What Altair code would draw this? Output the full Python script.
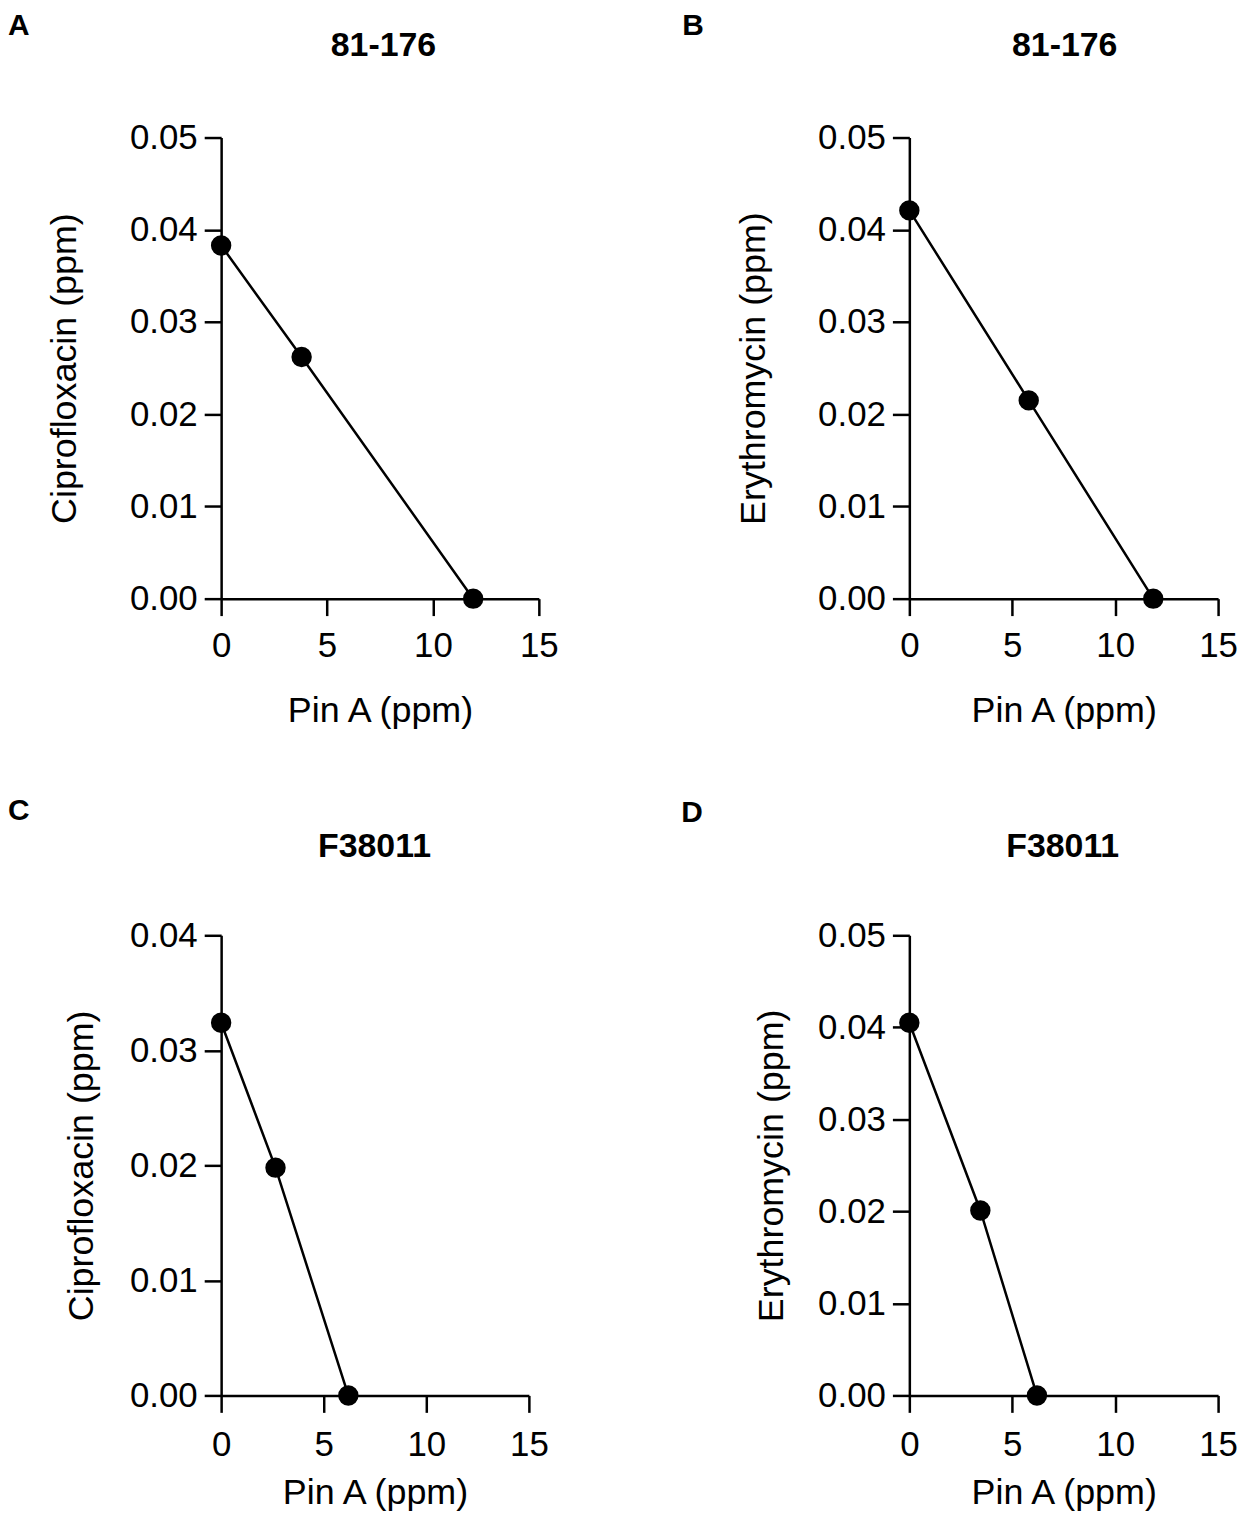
import altair as alt
import pandas as pd

# ---- data ----
letters = ["A", "B", "C", "D"]
strains = ["81-176", "81-176", "F38011", "F38011"]
y_titles = ["Ciprofloxacin (ppm)", "Erythromycin (ppm)", "Ciprofloxacin (ppm)", "Erythromycin (ppm)"]
y_max = [0.05, 0.05, 0.04, 0.05]
y_ticks = {
    0.05: [0.0, 0.01, 0.02, 0.03, 0.04, 0.05],
    0.04: [0.0, 0.01, 0.02, 0.03, 0.04],
}
x_ticks = [0, 5, 10, 15]

pin_a_A = [0.0, 3.8, 11.9]
cipro_A = [0.0383, 0.0262, 0.0]
pin_a_B = [0.0, 5.8, 11.85]
ery_B = [0.0421, 0.0215, 0.0]
pin_a_C = [0.0, 2.65, 6.2]
cipro_C = [0.0324, 0.0198, 0.0]
pin_a_D = [0.0, 3.45, 6.2]
ery_D = [0.0405, 0.0201, 0.0]

xs_all = [pin_a_A, pin_a_B, pin_a_C, pin_a_D]
ys_all = [cipro_A, ery_B, cipro_C, ery_D]

# ---- layout / style ----
FONT = "Liberation Sans"
widths = [319, 310, 309, 310]
heights = [463, 463, 462, 462]
letter_pos = [(-214, -127), (-228, -127), (-214, -140), (-229, -138)]
title_pos = [(163, -82), (156, -82), (154, -79), (154, -79)]
x_label_pad = [13.4, 13.4, 15.4, 15.4]
x_title_pad = [30, 30, 13, 13]
y_title_pad = [46, 45, 29, 27]


def panel(i):
    df = pd.DataFrame({"pin": xs_all[i], "val": ys_all[i]})
    x = alt.X(
        "pin:Q",
        scale=alt.Scale(domain=[0, 15], nice=False, zero=True),
        axis=alt.Axis(
            values=x_ticks,
            format="d",
            title="Pin A (ppm)",
            labelPadding=x_label_pad[i],
            titlePadding=x_title_pad[i],
        ),
    )
    y = alt.Y(
        "val:Q",
        scale=alt.Scale(domain=[0, y_max[i]], nice=False, zero=True),
        axis=alt.Axis(
            values=y_ticks[y_max[i]],
            format=".2f",
            title=y_titles[i],
            labelPadding=7,
            titlePadding=y_title_pad[i],
        ),
    )
    base = alt.Chart(df)
    line = base.mark_line(color="black", strokeWidth=2.5).encode(x=x, y=y)
    pts = base.mark_circle(size=420, color="black", opacity=1).encode(x=x, y=y)

    lab = pd.DataFrame({"t": [letters[i]]})
    letter = alt.Chart(lab).mark_text(
        align="left", baseline="top", font=FONT, fontSize=30, fontWeight="bold", color="black"
    ).encode(text="t:N", x=alt.value(letter_pos[i][0]), y=alt.value(letter_pos[i][1]))

    tt = pd.DataFrame({"t": [strains[i]]})
    title = alt.Chart(tt).mark_text(
        align="center", baseline="alphabetic", font=FONT, fontSize=34, fontWeight="bold", color="black"
    ).encode(text="t:N", x=alt.value(title_pos[i][0]), y=alt.value(title_pos[i][1]))

    return alt.layer(line, pts, letter, title).properties(width=widths[i], height=heights[i])


chart = (
    alt.concat(*[panel(i) for i in range(4)], columns=2, spacing={"row": 338, "column": 372}, bounds="flush")
    .properties(padding=0, background="white")
    .configure_view(stroke=None)
    .configure_axis(
        grid=False,
        domainColor="black",
        domainWidth=2.5,
        tickColor="black",
        tickWidth=2.5,
        tickSize=17,
        labelFont=FONT,
        labelFontSize=35,
        labelColor="black",
        titleFont=FONT,
        titleFontSize=36,
        titleFontWeight="normal",
        titleColor="black",
        labelOverlap=False,
        labelFlush=False,
    )
)

chart.save("out.html", embed_options={"renderer": "svg", "actions": False})
